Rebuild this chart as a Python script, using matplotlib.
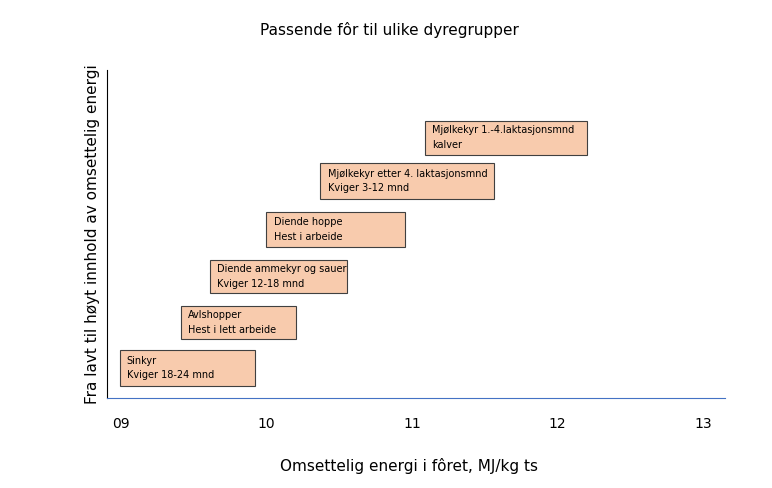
import matplotlib
matplotlib.use("Agg")
import matplotlib.pyplot as plt
from matplotlib.patches import Rectangle

labels = ["Sinkyr\nKviger 18-24 mnd", "Avlshopper\nHest i lett arbeide",
          "Diende ammekyr og sauer\nKviger 12-18 mnd", "Diende hoppe\nHest i arbeide",
          "Mjølkekyr etter 4. laktasjonsmnd\nKviger 3-12 mnd", "Mjølkekyr 1.-4.laktasjonsmnd\nkalver"]
x_start = [8.99, 9.41, 9.61, 10.00, 10.37, 11.09]
x_end = [9.92, 10.20, 10.55, 10.95, 11.56, 12.20]
y_low = [0.37, 1.80, 3.20, 4.60, 6.07, 7.41]
y_high = [1.46, 2.80, 4.21, 5.67, 7.16, 8.45]
xticks = [9, 10, 11, 12, 13]
xticklabels = ["09", "10", "11", "12", "13"]

fig = plt.figure(figsize=(7.72, 4.88), dpi=100)
ax = fig.add_axes([0.1386, 0.1844, 0.8004, 0.6722])
ax.set_xlim(8.904, 13.15)
ax.set_ylim(0, 10)
for lab, a, b, lo, hi in zip(labels, x_start, x_end, y_low, y_high):
    ax.add_patch(Rectangle((a, lo), b - a, hi - lo, facecolor="#F8CBAD", edgecolor="#404040", linewidth=0.8))
    ax.text(a + 0.05, (lo + hi) / 2, lab, fontsize=7, va="center", ha="left", linespacing=1.6)
ax.set_xticks(xticks)
ax.set_xticklabels(xticklabels, fontsize=10)
ax.set_yticks([])
ax.tick_params(axis="x", length=0, pad=14)
for s in ["top", "right"]:
    ax.spines[s].set_visible(False)
ax.spines["bottom"].set_color("#4472C4")
ax.spines["left"].set_color("black")
fig.text(0.505, 0.938, "Passende fôr til ulike dyregrupper", ha="center", va="center", fontsize=11)
fig.text(0.53, 0.045, "Omsettelig energi i fôret, MJ/kg ts", ha="center", va="center", fontsize=11)
fig.text(0.12, 0.52, "Fra lavt til høyt innhold av omsettelig energi", rotation=90, ha="center", va="center", fontsize=11)
fig.savefig("out.png", dpi=100)
